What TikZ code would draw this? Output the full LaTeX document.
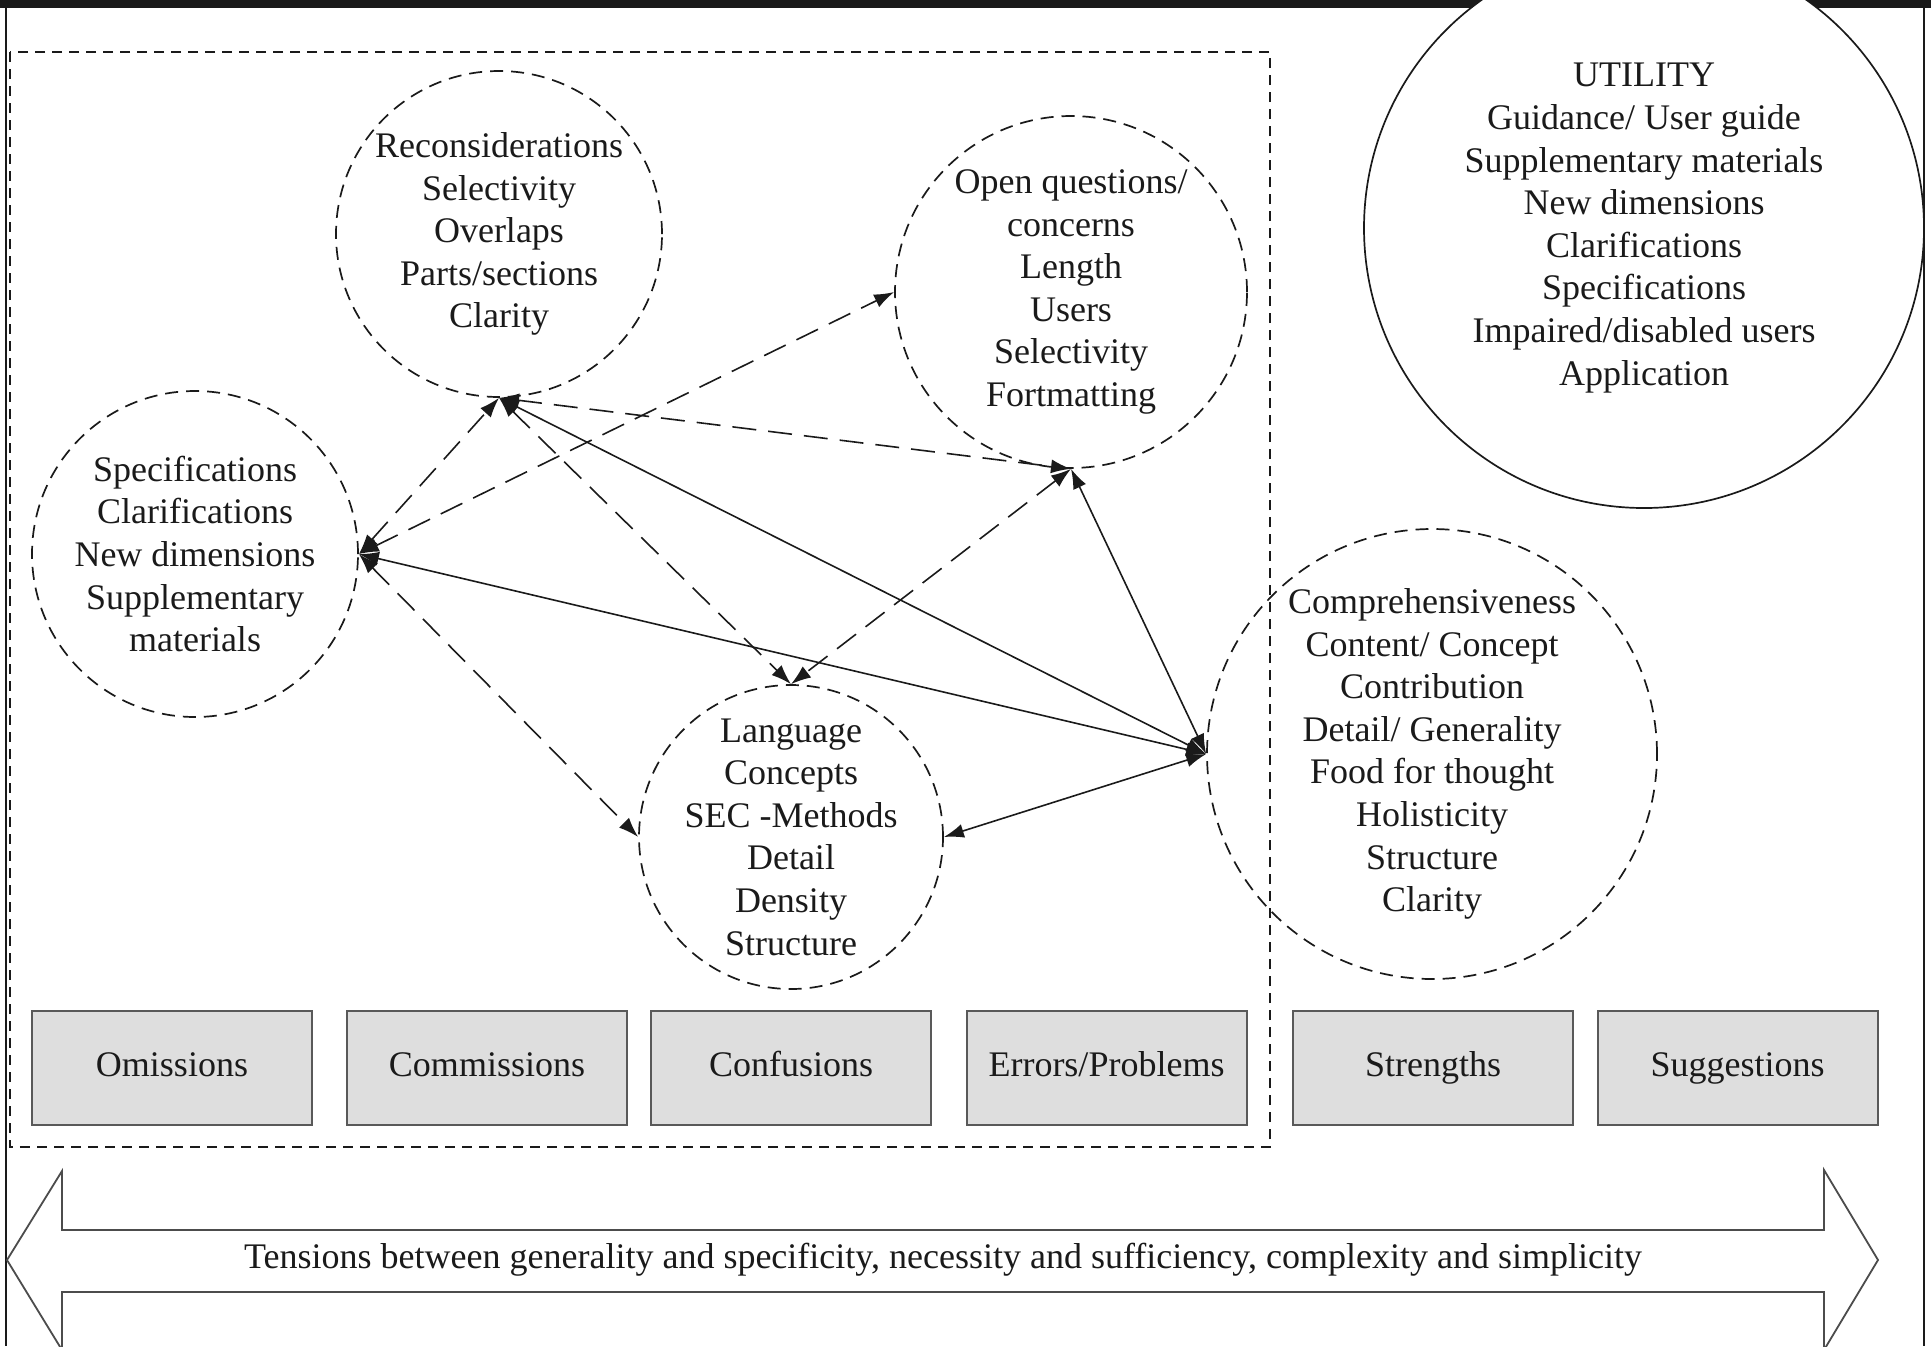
\documentclass[tikz,border=0pt]{standalone}
\usepackage{fontspec}
\setmainfont{Liberation Serif}
\usetikzlibrary{arrows.meta}
\definecolor{boxgray}{RGB}{222,222,222}
\definecolor{ink}{RGB}{26,26,26}

\begin{document}
\begin{tikzpicture}[x=0.5pt,y=-0.5pt,
  every node/.style={font=\fontsize{18}{21.3}\selectfont, text=ink},
  topic/.style={circle, draw=ink, line width=0.85pt,
    dash pattern=on 6.5pt off 4pt, align=center, inner sep=-30pt},
  util/.style={circle, draw=ink, fill=white, line width=0.85pt,
    align=center, inner sep=-30pt},
  catbox/.style={rectangle, draw=black!65, line width=1pt, fill=boxgray,
    minimum width=140pt, minimum height=57pt, inner sep=0pt,
    text height=12pt, text depth=4pt},
  tip/.style={Latex[length=10pt,width=7pt]},
  link/.style={{Latex[length=10pt,width=7pt]}-{Latex[length=10pt,width=7pt]},
    line width=0.8pt, draw=ink},
  dlink/.style={link, dash pattern=on 12pt off 6pt},
]
\useasboundingbox (0,0) rectangle (1931,1346);

% outer frame
\fill[ink] (0,0) rectangle (1931,8);
\draw[ink, line width=1.3pt] (6,0) -- (6,1346);
\draw[ink, line width=1.3pt] (1924,0) -- (1924,1346);

% dashed region holding the critique topics
\draw[ink, line width=1.3pt, dash pattern=on 5pt off 3.5pt] (10,52) rectangle (1270,1147);

% utility circle
\node[util, minimum size=280pt] (util) at (1644,228)
  {UTILITY\\Guidance/ User guide\\Supplementary materials\\New dimensions\\Clarifications\\Specifications\\Impaired/disabled users\\Application};

% topic circles
\node[topic, minimum size=163pt] (recon) at (499,234)
  {Reconsiderations\\Selectivity\\Overlaps\\Parts/sections\\Clarity};
\node[topic, minimum size=176pt] (open) at (1071,292)
  {Open questions/\\concerns\\Length\\Users\\Selectivity\\Fortmatting};
\node[topic, minimum size=163pt] (spec) at (195,554)
  {Specifications\\Clarifications\\New dimensions\\Supplementary\\materials};
\node[topic, minimum size=152pt] (lang) at (791,837)
  {Language\\Concepts\\SEC -Methods\\Detail\\Density\\Structure};
\node[topic, minimum size=225pt] (comp) at (1432,754)
  {Comprehensiveness\\Content/ Concept\\Contribution\\Detail/ Generality\\Food for thought\\Holisticity\\Structure\\Clarity};

% dashed links
\draw[dlink] (spec.east) -- (recon.south);
\draw[dlink] (spec.east) -- (open.west);
\draw[dlink] (spec.east) -- (lang.west);
\draw[dlink] (recon.south) -- (open.south);
\draw[dlink] (recon.south) -- (lang.north);
\draw[dlink] (open.south) -- (lang.north);

% solid links
\draw[link] (spec.east) -- (comp.west);
\draw[link] (recon.south) -- (comp.west);
\draw[link] (open.south) -- (comp.west);
\draw[link] (lang.east) -- (comp.west);

% category boxes
\node[catbox] (omis) at (172,1068) {Omissions};
\node[catbox] (comm) at (487,1068) {Commissions};
\node[catbox] (conf) at (791,1068) {Confusions};
\node[catbox] (err)  at (1106.5,1068) {Errors/Problems};
\node[catbox] (str)  at (1433,1068) {Strengths};
\node[catbox] (sugg) at (1737.5,1068) {Suggestions};

% two-headed band
\draw[draw=black!70, line width=0.9pt, fill=white, line join=miter]
  (7,1260) -- (62,1171) -- (62,1230) -- (1824,1230) -- (1824,1170)
  -- (1878,1260) -- (1824,1350) -- (1824,1292) -- (62,1292) -- (62,1350) -- cycle;
\node (tension) at (943,1260)
  {Tensions between generality and specificity, necessity and sufficiency, complexity and simplicity};
\end{tikzpicture}
\end{document}
